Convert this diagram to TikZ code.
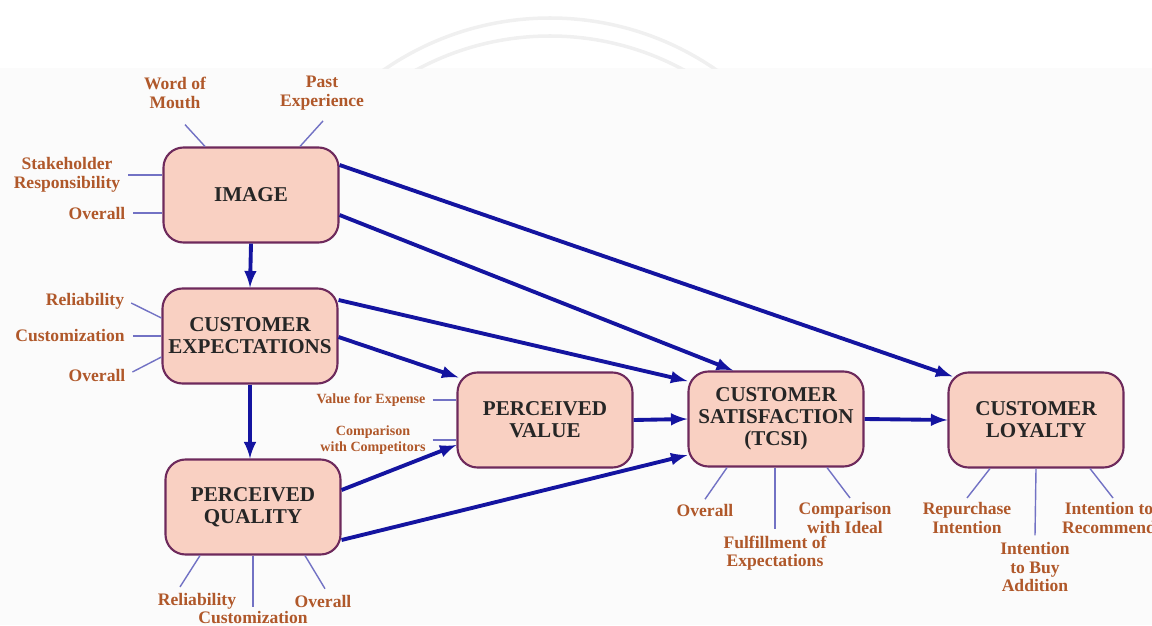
\documentclass[tikz,border=0pt]{standalone}
\usepackage{fontspec}
\setmainfont{Liberation Serif}
\definecolor{boxfill}{HTML}{F9D0C2}
\definecolor{boxline}{HTML}{6E2A5C}
\definecolor{lbltext}{HTML}{B0582A}
\definecolor{arrblue}{HTML}{1414A0}
\definecolor{indblue}{HTML}{7272C4}
\begin{document}
\begin{tikzpicture}[
box/.style={
draw=boxline,
fill=boxfill,
line width=1.2pt,
rounded corners=0.4cm,
align=center,
minimum width=3.5cm,
minimum height=1.9cm,
inner sep=1pt,
text=black!85,
font=\fontsize{12}{12.5}\selectfont\bfseries
},
lbl/.style={
align=center,
inner sep=1pt,
text=lbltext,
font=\fontsize{10}{10.5}\selectfont\bfseries
},
lblsmall/.style={
lbl,
font=\fontsize{8}{9.5}\selectfont\bfseries
},
arr/.style={
-latex,
draw=arrblue,
line width=2.2pt
},
ind/.style={
draw=indblue,
line width=0.8pt
}
]

\useasboundingbox (0,0) rectangle (23.04,-12.5);
\fill[black!1.5] (0,-1.36) rectangle (23.04,-12.5);
\begin{scope}
\clip (0,0) rectangle (23.04,-1.38);
\draw[black!6,line width=2pt] (11,-6.2) circle (5.84cm);
\draw[black!6,line width=2pt] (11,-6.32) circle (5.6cm);
\end{scope}

% main constructs
\node[box] (IMG) at (5.02,-3.9)
{IMAGE};

\node[box] (CE) at (5.0,-6.72)
{CUSTOMER\\EXPECTATIONS};

\node[box] (PQ) at (5.06,-10.14)
{PERCEIVED\\QUALITY};

\node[box] (PV) at (10.9,-8.4)
{PERCEIVED\\VALUE};

\node[box] (CS) at (15.52,-8.38)
{CUSTOMER\\SATISFACTION\\(TCSI)};

\node[box] (CL) at (20.72,-8.4)
{CUSTOMER\\LOYALTY};

% indicators
\node[lbl] (WoM) at (3.5,-1.86)
{Word of\\Mouth};
\node[lbl] (PE) at (6.44,-1.86)
{Past\\Experience};
\node[lbl] (SR) at (1.34,-3.5)
{Stakeholder\\Responsibility};
\node[lbl] (OvI) at (1.94,-4.26)
{Overall};

\node[lbl] (RelE) at (1.7,-6.02)
{Reliability};
\node[lbl] (CusE) at (1.4,-6.72)
{Customization};
\node[lbl] (OvE) at (1.94,-7.5)
{Overall};

\node[lblsmall] (VfE) at (7.42,-8.0)
{Value for Expense};
\node[lblsmall] (CwC) at (7.46,-8.8)
{Comparison\\with Competitors};

\node[lbl] (RelQ) at (3.94,-12.02)
{Reliability};
\node[lbl] (CusQ) at (5.06,-12.36)
{Customization};
\node[lbl] (OvQ) at (6.46,-12.02)
{Overall};

\node[lbl] (OvS) at (14.1,-10.2)
{Overall};
\node[lbl] (FoE) at (15.5,-11.06)
{Fulfillment of\\Expectations};
\node[lbl] (CwI) at (16.9,-10.36)
{Comparison\\with Ideal};

\node[lbl] (RI) at (19.34,-10.36)
{Repurchase\\Intention};
\node[lbl] (ItB) at (20.7,-11.34)
{Intention\\to Buy\\Addition};
\node[lbl] (ItR) at (22.18,-10.36)
{Intention to\\Recommend};

\draw[ind] ([shift={(0.2,-0.28)}]WoM.south) -- ([xshift=-0.92cm]IMG.north);
\draw[ind] ([shift={(0.02,-0.18)}]PE.south) -- ([xshift=0.98cm]IMG.north);
\draw[ind] ([xshift=0.12cm]SR.east) -- (IMG.west |- SR.east);
\draw[ind] ([xshift=0.12cm]OvI.east) -- (IMG.west |- OvI.east);

\draw[ind] ([shift={(0.1,-0.04)}]RelE.east) -- ([yshift=0.36cm]CE.west);
\draw[ind] ([xshift=0.12cm]CusE.east) -- (CE.west |- CusE.east);
\draw[ind] ([shift={(0.1,0.06)}]OvE.east) -- ([yshift=-0.42cm]CE.west);

\draw[ind] ([xshift=0.1cm]VfE.east) -- (PV.west |- VfE.east);
\draw[ind] ([xshift=0.1cm]CwC.east) -- (PV.west |- CwC.east);

\draw[ind] ([shift={(-0.34,0.08)}]RelQ.north) -- ([xshift=-1.06cm]PQ.south);
\draw[ind] ([yshift=0.06cm]CusQ.north) -- (PQ.south);
\draw[ind] ([shift={(0.04,0.08)}]OvQ.north) -- ([xshift=1.04cm]PQ.south);

\draw[ind] ([shift={(0.0,0.05)}]OvS.north) -- ([xshift=-0.98cm]CS.south);
\draw[ind] ([yshift=0.1cm]FoE.north) -- (FoE.north |- CS.south);
\draw[ind] ([shift={(0.1,0.05)}]CwI.north) -- ([xshift=1.02cm]CS.south);

\draw[ind] ([shift={(0.0,0.05)}]RI.north) -- ([xshift=-0.92cm]CL.south);
\draw[ind] ([yshift=0.1cm]ItB.north) -- (CL.south);
\draw[ind] ([shift={(0.08,0.05)}]ItR.north) -- ([xshift=1.08cm]CL.south);

% structural paths
\draw[arr] (IMG.south) -- (CE.north);
\draw[arr] (CE.south) -- (CE.south |- PQ.north);
\draw[arr] ([yshift=-0.4cm]IMG.east) -- ([xshift=-0.86cm]CS.north);
\draw[arr] ([yshift=0.6cm]IMG.east) -- ([shift={(0.1,-0.1)}]CL.north west);
\draw[arr] ([yshift=0.72cm]CE.east) -- ([yshift=0.76cm]CS.west);
\draw[arr] ([yshift=-0.02cm]CE.east) -- ([shift={(0.04,-0.12)}]PV.north west);
\draw[arr] (PV.east) -- (CS.west);
\draw[arr] (CS.east) -- (CL.west);
\draw[arr] ([yshift=0.34cm]PQ.east) -- ([yshift=-0.5cm]PV.west);
\draw[arr] ([yshift=-0.66cm]PQ.east) -- ([yshift=-0.72cm]CS.west);

\end{tikzpicture}
\end{document}
